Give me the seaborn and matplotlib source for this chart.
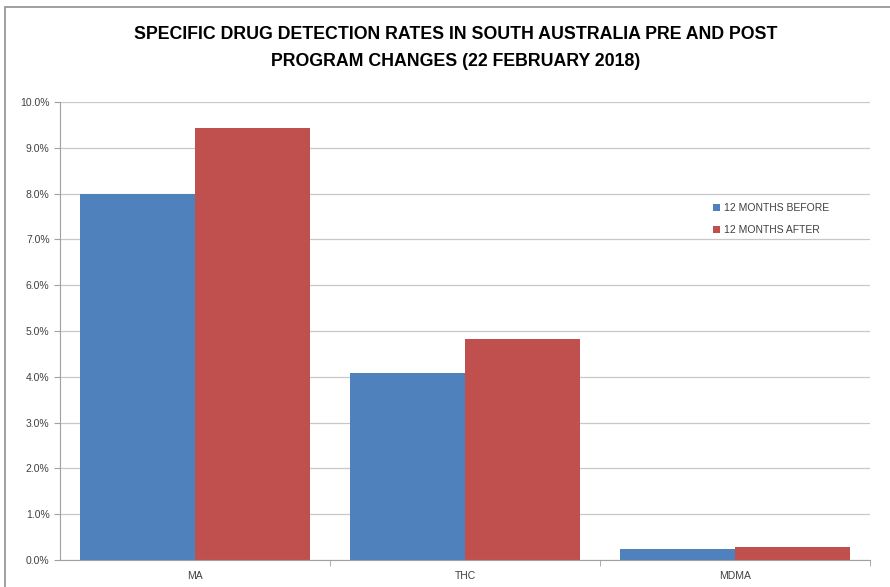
import pandas as pd
import matplotlib
matplotlib.use("Agg")
import matplotlib.pyplot as plt
import seaborn as sns
from matplotlib.patches import Rectangle
from matplotlib.ticker import FuncFormatter, FixedLocator

# data
drugs = ['MA', 'THC', 'MDMA']
before = [8.0, 4.08, 0.24]
after = [9.43, 4.83, 0.28]
series = ['12 MONTHS BEFORE', '12 MONTHS AFTER']

df = pd.DataFrame({
    'Drug': drugs * 2,
    'Rate': before + after,
    'Period': [series[0]] * 3 + [series[1]] * 3,
})

sns.set_style("white")
plt.rcParams['font.family'] = ['Liberation Sans', 'DejaVu Sans']

fig = plt.figure(figsize=(8.9, 5.87), dpi=100)
ax = fig.add_axes([60 / 890, 27 / 587, 810 / 890, 458 / 587])

sns.barplot(data=df, x='Drug', y='Rate', hue='Period', order=drugs, hue_order=series,
            palette=['#4F81BD', '#C0504D'], width=0.85, saturation=1, linewidth=0, ax=ax)

ax.set_ylim(0, 10)
ax.set_xlim(-0.5, 2.5)
ax.set_yticks(range(0, 11))
ax.yaxis.set_major_formatter(FuncFormatter(lambda v, p: f'{v:.1f}%'))
ax.yaxis.grid(True, color='#c8c8c8', linewidth=0.9)
ax.set_axisbelow(True)
ax.set_xlabel('')
ax.set_ylabel('')
for s in ['top', 'right']:
    ax.spines[s].set_visible(False)
ax.spines['left'].set_color('#a0a0a0')
ax.spines['bottom'].set_color('#a0a0a0')
ax.tick_params(axis='y', labelsize=7.5, colors='#404040', length=4, direction='out', left=True, color='#a0a0a0')
ax.tick_params(axis='x', labelsize=7.5, colors='#404040', length=0, pad=8)
ax.xaxis.set_minor_locator(FixedLocator([0.5, 1.5, 2.5]))
ax.tick_params(axis='x', which='minor', length=4, bottom=True, color='#a0a0a0')

leg = ax.legend(loc='upper left', bbox_to_anchor=(0.795, 0.80), frameon=False, fontsize=7.5,
                handlelength=0.6, handleheight=0.6, handletextpad=0.4, labelspacing=1.15)
for t in leg.get_texts():
    t.set_color('#404040')

fig.suptitle('SPECIFIC DRUG DETECTION RATES IN SOUTH AUSTRALIA PRE AND POST\nPROGRAM CHANGES (22 FEBRUARY 2018)',
             x=0.512, y=0.955, fontsize=12.8, fontweight='bold', linespacing=1.75, color='black')

fig.patches.append(Rectangle((5 / 890, -0.01), 1.0, 1 - 7 / 587 + 0.01, transform=fig.transFigure,
                             fill=False, edgecolor='#909090', linewidth=1.2))

fig.savefig('out.png', dpi=100)
